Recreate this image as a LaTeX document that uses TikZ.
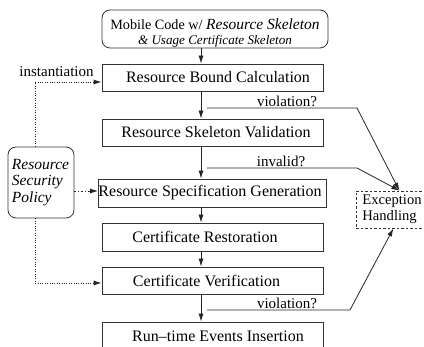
\documentclass[tikz,border=0pt]{standalone}
\usepackage{fontspec}
\setmainfont{Liberation Serif}
\usetikzlibrary{arrows.meta,calc}
\begin{document}
\begin{tikzpicture}[x=1pt,y=-1pt,
  stepbox/.style={draw=black!80,line width=0.8pt,minimum width=221pt,inner sep=0pt,font=\fontsize{16}{19}\selectfont},
  arr/.style={-{Latex[length=8pt,width=5pt]},line width=0.8pt,draw=black!85},
  dotarr/.style={-{Latex[length=8pt,width=5pt]},line width=0.8pt,draw=black!85,dash pattern=on 0.8pt off 1.6pt},
  lbl/.style={font=\fontsize{15}{17}\selectfont,inner sep=0pt}]
\clip (0,0) rectangle (424,347);
\fill[white] (0,0) rectangle (424,347);
% top box
\node[draw=black!80,line width=0.8pt,rounded corners=8pt,minimum width=226pt,minimum height=38pt,inner sep=0pt,align=center] (top) at (215,29)
  {\rule{0pt}{19pt}\fontsize{14.2}{17}\selectfont Mobile Code w/ {\fontsize{15.5}{17}\selectfont\itshape Resource Skeleton}\\[3pt]
   \fontsize{13.1}{17}\selectfont\itshape \& Usage Certificate Skeleton};
% steps
\node[stepbox,minimum height=27pt] (b1) at (212.5,77.5) {\hspace*{11pt}Resource Bound Calculation};
\node[stepbox,minimum height=27pt] (b2) at (212.5,132.5) {\hspace*{7pt}Resource Skeleton Validation};
\node[stepbox,minimum height=28pt] (b3) at (212.5,193) {Resource Specification Generation\hspace*{5pt}};
\node[stepbox,minimum height=28pt] (b4) at (212.5,237) {Certificate Restoration\hspace*{15pt}};
\node[stepbox,minimum height=27pt] (b5) at (212.5,280.5) {Certificate Verification\hspace*{12pt}};
\node[stepbox,minimum height=28pt] (b6) at (212.5,336) {\hspace*{11pt}Run\textendash time Events Insertion};
% policy
\node[draw=black!80,line width=0.8pt,rounded corners=8pt,minimum width=66pt,minimum height=71pt,inner sep=0pt,text width=58pt,align=left,font=\fontsize{15.5}{16.5}\selectfont\itshape] (pol) at (41,182.5) {Resource\\Security\\Policy};
% exception
\node[draw=black!80,line width=0.8pt,dash pattern=on 2.5pt off 2pt,anchor=west,minimum width=84pt,minimum height=37pt,inner xsep=6pt,inner ysep=0pt,text width=72pt,align=left,font=\fontsize{14.6}{16}\selectfont] (ex) at (356,209.5) {Exception\\Handling};
% vertical flow
\coordinate (ax) at (201,0);
\draw[arr] (top.south -| ax) -- (b1.north -| ax);
\draw[arr] (b1.south -| ax) -- (b2.north -| ax);
\draw[arr] (b2.south -| ax) -- (b3.north -| ax);
\draw[arr] (b3.south -| ax) -- (b4.north -| ax);
\draw[arr] (b4.south -| ax) -- (b5.north -| ax);
\draw[arr] (b5.south -| ax) -- (b6.north -| ax);
% violation branches
\coordinate (v1) at (207,108);
\coordinate (v2) at (207,168);
\coordinate (v3) at (207,310);
\draw[arr] (v1) -- (357,108) -- ($(ex.north)+(1,0)$);
\draw[arr] (v2) -- (357,168) -- ($(ex.north)+(1,0)$);
\draw[arr] (v3) -- (350,310) -- ($(ex.south)+(-5,0)$);
\node[lbl,anchor=base] (l1) at (287,107) {violation?};
\node[lbl,anchor=base] (l2) at (281,167) {invalid?};
\node[lbl,anchor=base] (l3) at (287,309) {violation?};
\node[lbl,anchor=base] (inst) at (56.5,77) {instantiation};
% policy connectors
\draw[dotarr] (pol.north -| 35,0) -- (35,82) -- (b1.west |- 0,82);
\draw[dotarr] (pol.south -| 35,0) -- (35,283) -- (b5.west |- 0,283);
\draw[-{Latex[length=8pt,width=5pt]},line width=0.8pt,draw=black!85,dash pattern=on 2pt off 2pt on 0.6pt off 2pt] (pol.east |- 0,191) -- (b3.west |- 0,191);
\end{tikzpicture}
\end{document}
